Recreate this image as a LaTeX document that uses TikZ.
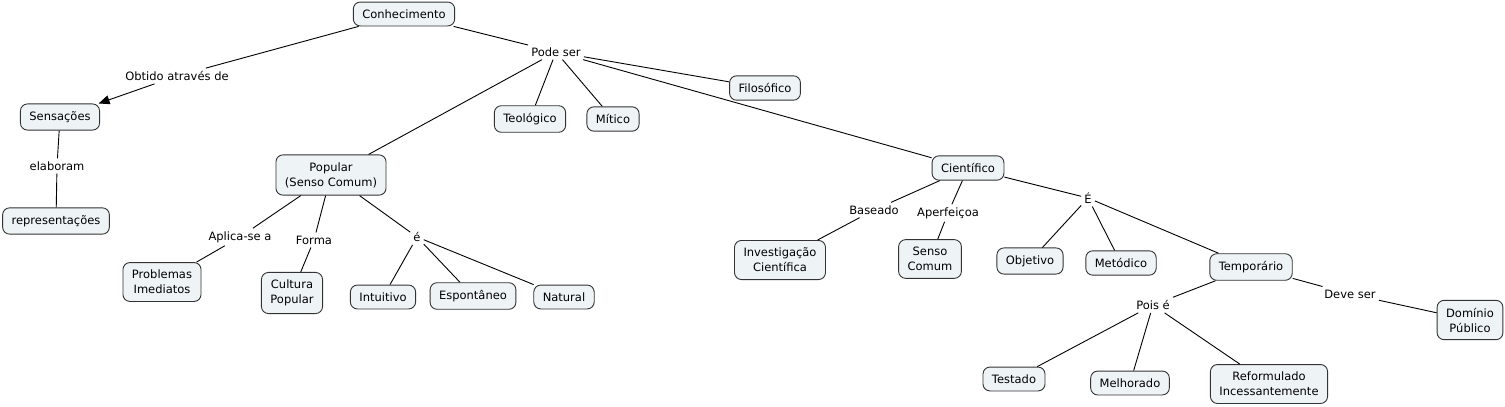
\documentclass[tikz,border=0pt]{standalone}
\usepackage{fontspec}
\setmainfont{DejaVu Sans}
\usetikzlibrary{arrows.meta}
\definecolor{boxfill}{HTML}{EEF3F6}
\definecolor{boxline}{HTML}{333333}
\tikzset{
  concept/.style={draw=boxline, fill=boxfill, rounded corners=7pt, align=center, inner xsep=9pt, inner ysep=7.5pt, font=\fontsize{11.5}{15}\selectfont, line width=0.9pt},
  lbl/.style={inner sep=3pt, font=\fontsize{11.5}{14}\selectfont},
  link/.style={draw=black, line width=0.9pt},
}
\begin{document}
\begin{tikzpicture}[x=1pt,y=-1pt]
\useasboundingbox (0,0) rectangle (1505,407);
% concepts
\node[concept] (con) at (404,14) {Conhecimento};
\node[concept] (sen) at (60,117) {Sensações};
\node[concept] (rep) at (56,221) {representações};
\node[concept] (fil) at (765,88) {Filosófico};
\node[concept] (teo) at (530,119) {Teológico};
\node[concept] (mit) at (613,119) {Mítico};
\node[concept] (pop) at (331,175) {Popular\\(Senso Comum)};
\node[concept] (cie) at (968,168) {Científico};
\node[concept] (pro) at (162,282) {Problemas\\Imediatos};
\node[concept] (cul) at (292,293) {Cultura\\Popular};
\node[concept] (int) at (383,297) {Intuitivo};
\node[concept] (esp) at (473,296) {Espontâneo};
\node[concept] (nat) at (564,297) {Natural};
\node[concept] (inv) at (780,260) {Investigação\\Científica};
\node[concept] (sc) at (930,259) {Senso\\Comum};
\node[concept] (obj) at (1030,261) {Objetivo};
\node[concept] (met) at (1121,263) {Metódico};
\node[concept] (tem) at (1251,267) {Temporário};
\node[concept] (dom) at (1470,320) {Domínio\\Público};
\node[concept] (tes) at (1014,379) {Testado};
\node[concept] (mel) at (1130,383) {Melhorado};
\node[concept] (ref) at (1269,384) {Reformulado\\Incessantemente};
% link labels
\node[lbl] (lpode) at (556,52) {Pode ser};
\node[lbl] (lobt) at (177,76) {Obtido através de};
\node[lbl] (lela) at (57,166) {elaboram};
\node[lbl] (lapl) at (240,237) {Aplica-se a};
\node[lbl] (lfor) at (314,240) {Forma};
\node[lbl] (le) at (417,237) {é};
\node[lbl] (lbas) at (874,210) {Baseado};
\node[lbl] (lape) at (948,213) {Aperfeiçoa};
\node[lbl] (lE) at (1088,198) {É};
\node[lbl] (lpois) at (1153,305) {Pois é};
\node[lbl] (ldev) at (1350,294) {Deve ser};
% connectors
\draw[link] (con) -- (lpode);
\draw[link] (lpode) -- (fil);
\draw[link] (lpode) -- (teo);
\draw[link] (lpode) -- (mit);
\draw[link] (lpode) -- (pop);
\draw[link] (lpode) -- (cie);
\draw[link] (con) -- (lobt);
\draw[link,-{Triangle[length=11pt,width=9pt]}] (lobt) -- (sen);
\draw[link] (sen) -- (lela);
\draw[link] (lela) -- (rep);
\draw[link] (pop) -- (lapl);
\draw[link] (lapl) -- (pro);
\draw[link] (pop) -- (lfor);
\draw[link] (lfor) -- (cul);
\draw[link] (pop) -- (le);
\draw[link] (le) -- (int);
\draw[link] (le) -- (esp);
\draw[link] (le) -- (nat);
\draw[link] (cie) -- (lbas);
\draw[link] (lbas) -- (inv);
\draw[link] (cie) -- (lape);
\draw[link] (lape) -- (sc);
\draw[link] (cie) -- (lE);
\draw[link] (lE) -- (obj);
\draw[link] (lE) -- (met);
\draw[link] (lE) -- (tem);
\draw[link] (tem) -- (lpois);
\draw[link] (lpois) -- (tes);
\draw[link] (lpois) -- (mel);
\draw[link] (lpois) -- (ref);
\draw[link] (tem) -- (ldev);
\draw[link] (ldev) -- (dom);
\end{tikzpicture}
\end{document}
